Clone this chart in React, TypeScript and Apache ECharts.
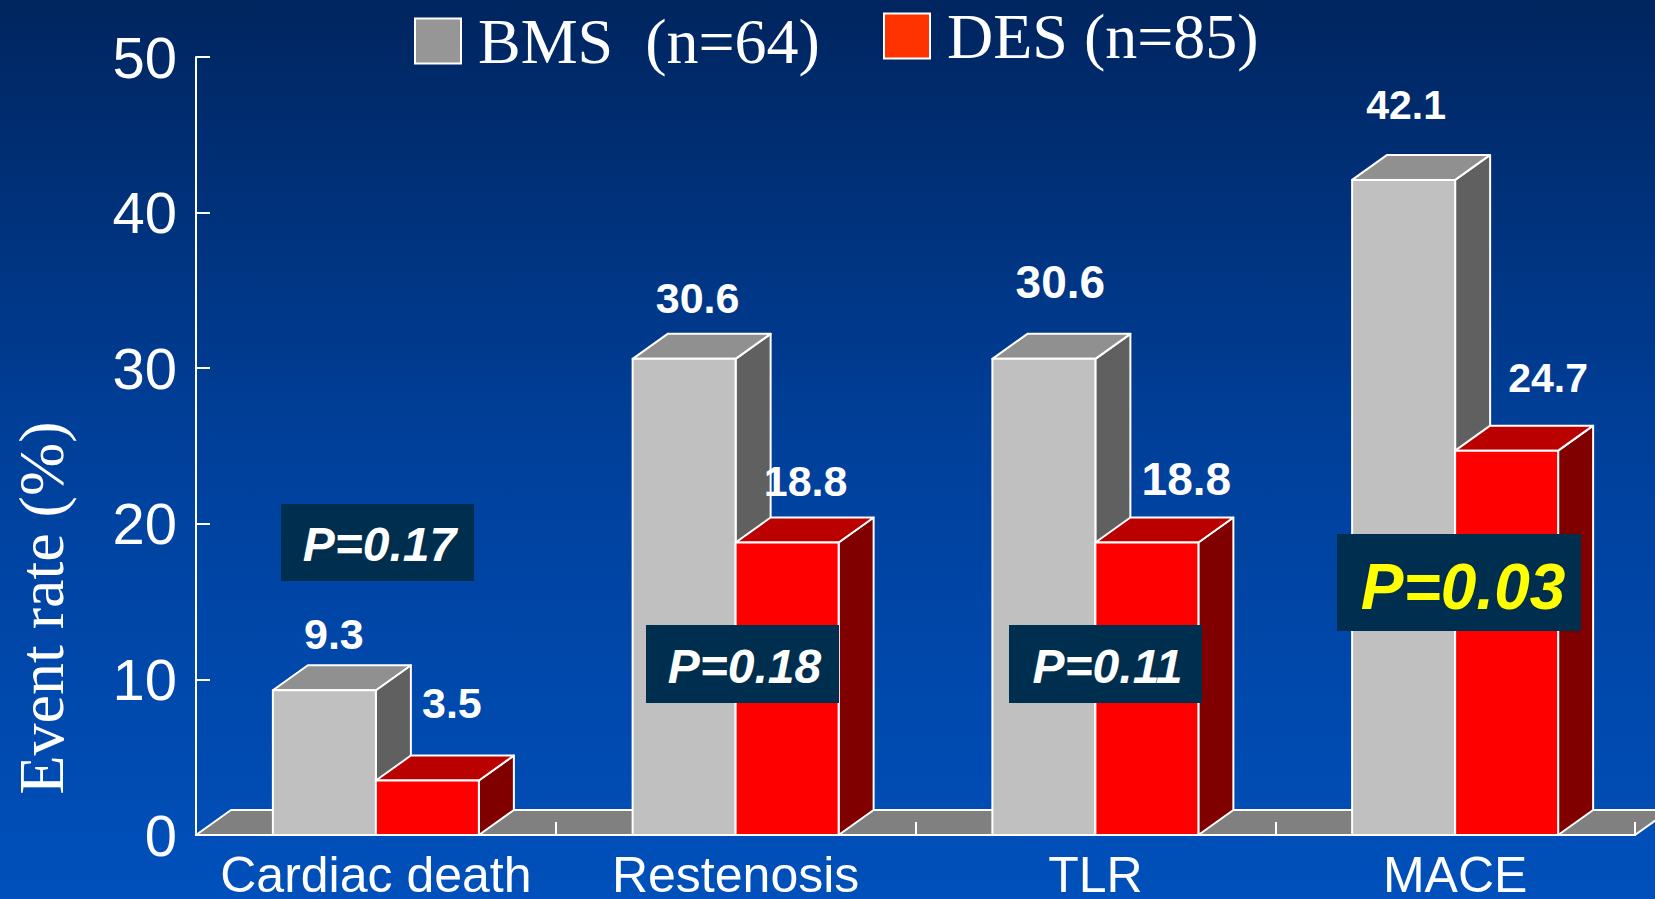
import React, { useEffect, useRef } from "react";
import * as echarts from "echarts";

const categories = ["Cardiac death", "Restenosis", "TLR", "MACE"];
const bmsValues = [9.3, 30.6, 30.6, 42.1];
const desValues = [3.5, 18.8, 18.8, 24.7];
const yTicks = { min: 0, max: 50, interval: 10 };
const bmsName = "BMS  (n=64)";
const desName = "DES (n=85)";
const pValues = ["P=0.17", "P=0.18", "P=0.11", "P=0.03"];

// Where each value label sits, relative to the centre of its bar's top face.
const bmsLabelNudge = [[-8, -31], [-4, -36], [-1, -52], [-15, -50]];
const desLabelNudge = [[7, -53], [1, -36], [22, -38], [24, -48]];
const labelSizes = [43, 43, 46, 41];

const DEPTH_X = 35;
const DEPTH_Y = 25;
const BAR_RATIO = 103 / 359.75;

const poly = (points: number[][], fill: string) => ({
  type: "polygon",
  shape: { points },
  style: { fill, stroke: "#ffffff", lineWidth: 2, lineJoin: "round" },
});

// Extruded bar: front face, top face and right side, with its value above.
const barRenderer =
  (front: string, top: string, side: string, offset: number, nudges: number[][]) =>
  (params: any, api: any) => {
    const i = params.dataIndex;
    const value = api.value(1);
    const [cx, yTop] = api.coord([api.value(0), value]);
    const [, y0] = api.coord([api.value(0), 0]);
    const w = api.size([1, 0])[0] * BAR_RATIO;
    const x = cx + offset * w;
    const [nx, ny] = nudges[i];
    return {
      type: "group",
      children: [
        poly([[x + w, y0], [x + w + DEPTH_X, y0 - DEPTH_Y], [x + w + DEPTH_X, yTop - DEPTH_Y], [x + w, yTop]], side),
        poly([[x, yTop], [x + DEPTH_X, yTop - DEPTH_Y], [x + w + DEPTH_X, yTop - DEPTH_Y], [x + w, yTop]], top),
        poly([[x, y0], [x, yTop], [x + w, yTop], [x + w, y0]], front),
        {
          type: "text",
          x: x + w / 2 + DEPTH_X / 2 + nx,
          y: yTop - DEPTH_Y + ny,
          style: {
            text: value.toFixed(1),
            fill: "#ffffff",
            font: `bold ${labelSizes[i]}px "Liberation Sans"`,
            align: "center",
            verticalAlign: "middle",
          },
        },
      ],
    };
  };

// Grey floor plane running behind the bars along the category axis.
const floorRenderer = (params: any) => {
  const { x, y, width, height } = params.coordSys;
  const y0 = y + height;
  return poly(
    [[x, y0], [x + DEPTH_X, y0 - DEPTH_Y], [x + width + DEPTH_X, y0 - DEPTH_Y], [x + width, y0]],
    "#808080",
  );
};

const pBox = (text: string, x: number, y: number, w: number, h: number, size: number, fill: string, shift: number) => ({
  type: "group",
  children: [
    { type: "rect", z: 20, shape: { x, y, width: w, height: h }, style: { fill: "#002e4e" } },
    {
      type: "text",
      z: 21,
      x: x + w / 2 + shift,
      y: y + h / 2 + shift,
      style: {
        text,
        fill,
        font: `italic bold ${size}px "Liberation Sans"`,
        align: "center",
        verticalAlign: "middle",
      },
    },
  ],
});

const legendBase = {
  orient: "horizontal",
  padding: 0,
  itemWidth: 46,
  itemHeight: 45,
  icon: "rect",
  selectedMode: false,
};

const legendText = {
  color: "#ffffff",
  fontFamily: "Liberation Serif",
  fontSize: 64,
  lineHeight: 46,
  padding: [0, 0, 12, 12],
};

export default function App() {
  const ref = useRef<HTMLDivElement>(null);

  useEffect(() => {
    document.body.style.margin = "0";
    const chart = echarts.init(ref.current!, null, { renderer: "svg" });
    chart.setOption({
      animation: false,
      backgroundColor: new echarts.graphic.LinearGradient(0, 0, 0, 1, [
        { offset: 0, color: "#00255f" },
        { offset: 0.5, color: "#00409b" },
        { offset: 1, color: "#0050bb" },
      ]),
      grid: { left: 196, right: 20, top: 57, bottom: 64, outerBoundsMode: "none" },
      legend: [
        {
          ...legendBase,
          left: 414,
          top: 9,
          data: [{ name: bmsName, itemStyle: { color: "#969696", borderColor: "#fff", borderWidth: 2 } }],
          textStyle: legendText,
        },
        {
          ...legendBase,
          left: 883,
          top: 4,
          data: [{ name: desName, itemStyle: { color: "#ff3300", borderColor: "#fff", borderWidth: 2 } }],
          textStyle: legendText,
        },
      ],
      xAxis: {
        type: "category",
        data: categories,
        z: 5,
        axisLine: { lineStyle: { color: "#ffffff", width: 2 } },
        axisTick: { show: true, inside: true, interval: 0, length: 13, lineStyle: { color: "#ffffff", width: 2 } },
        axisLabel: { color: "#ffffff", fontFamily: "Liberation Sans", fontSize: 50, lineHeight: 47, margin: 16, interval: 0 },
      },
      yAxis: {
        type: "value",
        ...yTicks,
        name: "Event rate (%)",
        nameLocation: "middle",
        nameRotate: 90,
        nameGap: 123,
        nameTextStyle: {
          color: "#ffffff",
          fontFamily: "Liberation Serif",
          fontSize: 64,
          padding: [0, 324, 0, 0],
        },
        splitLine: { show: false },
        axisLine: { show: true, lineStyle: { color: "#ffffff", width: 2 } },
        axisTick: { show: true, inside: true, length: 14, lineStyle: { color: "#ffffff", width: 2 } },
        axisLabel: { color: "#ffffff", fontFamily: "Liberation Sans", fontSize: 58, margin: 19 },
      },
      series: [
        { type: "custom", name: "floor", silent: true, z: 1, clip: false, data: [[0, 0]], renderItem: floorRenderer, encode: { x: 0, y: 1 } },
        {
          type: "custom",
          name: bmsName,
          silent: true,
          z: 2,
          clip: false,
          itemStyle: { color: "#c0c0c0" },
          data: bmsValues.map((v, i) => [i, v]),
          encode: { x: 0, y: 1 },
          renderItem: barRenderer("#c0c0c0", "#909090", "#606060", -1, bmsLabelNudge),
        },
        {
          type: "custom",
          name: desName,
          silent: true,
          z: 3,
          clip: false,
          itemStyle: { color: "#ff0000" },
          data: desValues.map((v, i) => [i, v]),
          encode: { x: 0, y: 1 },
          renderItem: barRenderer("#ff0000", "#bb0000", "#800000", 0, desLabelNudge),
        },
      ],
      graphic: [
        pBox(pValues[0], 281, 504, 193, 77, 48, "#ffffff", 2),
        pBox(pValues[1], 646, 625, 193, 78, 48, "#ffffff", 2),
        pBox(pValues[2], 1009, 625, 193, 78, 48, "#ffffff", 2),
        pBox(pValues[3], 1337, 534, 244, 97, 64, "#ffff00", 4),
      ],
    });
    return () => chart.dispose();
  }, []);

  return <div ref={ref} style={{ width: 1655, height: 899 }} />;
}
